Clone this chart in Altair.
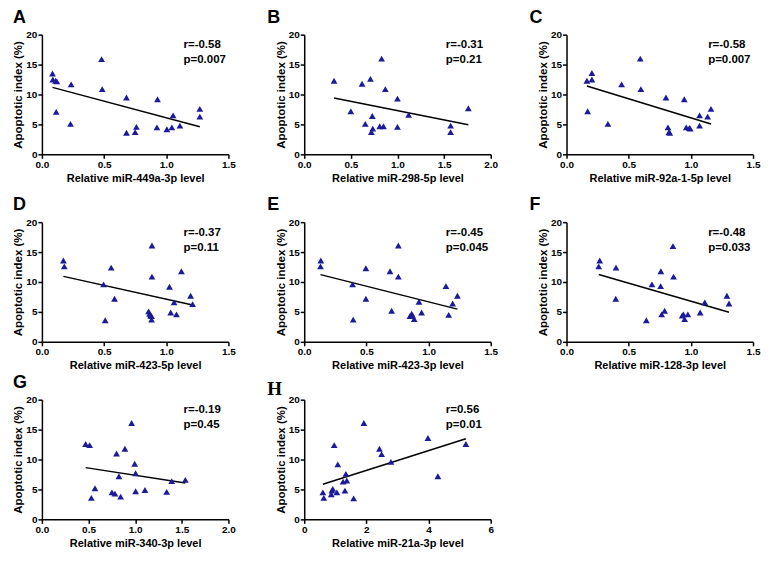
import altair as alt
import pandas as pd

# ---- data ----
a_x = [0.085, 0.088, 0.11, 0.12, 0.235, 0.115, 0.23, 0.48, 0.485, 0.68, 0.68, 0.76, 0.75, 0.925, 0.93, 1.005, 1.045, 1.055, 1.11, 1.27, 1.27]
a_y = [13.5, 12.5, 12.3, 12.2, 11.7, 7.1, 5.1, 15.9, 10.9, 9.5, 3.6, 4.6, 3.7, 4.5, 9.2, 4.2, 4.5, 6.5, 4.8, 7.6, 6.3]

b_x = [0.32, 0.50, 0.62, 0.71, 0.83, 0.87, 1.0, 0.73, 0.655, 0.735, 0.72, 0.81, 0.85, 1.0, 1.12, 1.57, 1.57, 1.76]
b_y = [12.3, 7.2, 11.8, 12.6, 16.0, 10.9, 9.3, 6.4, 5.1, 4.3, 3.7, 4.7, 4.7, 4.6, 6.6, 4.8, 3.7, 7.7]

c_x = [0.164, 0.204, 0.204, 0.17, 0.333, 0.443, 0.593, 0.598, 0.80, 0.816, 0.824, 0.83, 0.947, 0.963, 0.988, 0.995, 1.07, 1.07, 1.135, 1.162]
c_y = [12.3, 13.6, 12.5, 7.2, 5.1, 11.7, 16.0, 10.9, 9.5, 4.5, 3.7, 3.6, 9.2, 4.5, 4.4, 4.3, 6.5, 4.8, 6.3, 7.6]

d_x = [0.173, 0.18, 0.496, 0.509, 0.557, 0.584, 0.885, 0.885, 0.858, 0.866, 0.874, 0.882, 0.882, 1.026, 1.036, 1.063, 1.082, 1.122, 1.196, 1.212]
d_y = [13.6, 12.6, 9.6, 3.6, 12.4, 7.2, 16.1, 10.9, 5.1, 4.7, 4.4, 4.3, 3.7, 9.2, 4.9, 6.6, 4.6, 11.8, 7.7, 6.3]

e_x = [0.134, 0.131, 0.389, 0.394, 0.496, 0.496, 0.69, 0.703, 0.757, 0.757, 0.85, 0.864, 0.872, 0.885, 0.923, 0.944, 1.14, 1.162, 1.194, 1.232]
e_y = [13.6, 12.6, 9.6, 3.7, 12.3, 7.2, 11.8, 5.2, 16.1, 10.9, 4.3, 4.7, 4.4, 3.8, 6.7, 4.9, 9.3, 4.5, 6.4, 7.7]

f_x = [0.267, 0.259, 0.398, 0.396, 0.642, 0.687, 0.759, 0.757, 0.765, 0.789, 0.856, 0.861, 0.93, 0.94, 0.95, 0.976, 1.075, 1.112, 1.29, 1.307]
f_y = [13.6, 12.6, 12.4, 7.2, 3.6, 9.6, 11.8, 9.3, 4.6, 5.2, 16.0, 10.9, 4.4, 4.6, 3.8, 4.6, 4.9, 6.6, 7.7, 6.4]

g_x = [0.469, 0.512, 0.569, 0.53, 0.751, 0.783, 0.80, 0.89, 0.826, 0.844, 0.962, 0.995, 1.005, 1.005, 1.105, 1.338, 1.392, 1.538]
g_y = [12.6, 12.4, 5.2, 3.6, 4.5, 4.3, 11.0, 11.8, 7.2, 3.8, 16.1, 9.3, 7.7, 4.7, 4.9, 4.6, 6.4, 6.6]

h_x = [0.60, 0.63, 0.89, 0.92, 0.87, 1.05, 0.965, 1.08, 1.25, 1.31, 1.34, 1.37, 1.59, 1.92, 2.42, 2.49, 2.79, 3.98, 4.30, 5.20]
h_y = [4.5, 3.6, 4.8, 5.1, 4.2, 4.5, 12.4, 9.2, 6.3, 4.8, 7.6, 6.5, 3.5, 16.1, 11.8, 10.9, 9.6, 13.6, 7.2, 12.6]

letters = ["A", "B", "C", "D", "E", "F", "G", "H"]
x_titles = ["Relative miR-449a-3p level", "Relative miR-298-5p level", "Relative miR-92a-1-5p level",
            "Relative miR-423-5p level", "Relative miR-423-3p level", "Relative miR-128-3p level",
            "Relative miR-340-3p level", "Relative miR-21a-3p level"]
r_texts = ["r=-0.58", "r=-0.31", "r=-0.58", "r=-0.37", "r=-0.45", "r=-0.48", "r=-0.19", "r=0.56"]
p_texts = ["p=0.007", "p=0.21", "p=0.007", "p=0.11", "p=0.045", "p=0.033", "p=0.45", "p=0.01"]
x_maxes = [1.5, 2.0, 1.5, 1.5, 1.5, 1.5, 2.0, 6]
x_ticks = [[0, 0.5, 1.0, 1.5], [0, 0.5, 1.0, 1.5, 2.0], [0, 0.5, 1.0, 1.5],
           [0, 0.5, 1.0, 1.5], [0, 0.5, 1.0, 1.5], [0, 0.5, 1.0, 1.5],
           [0, 0.5, 1.0, 1.5, 2.0], [0, 2, 4, 6]]
y_ticks = [0, 5, 10, 15, 20]

xs = [a_x, b_x, c_x, d_x, e_x, f_x, g_x, h_x]
ys = [a_y, b_y, c_y, d_y, e_y, f_y, g_y, h_y]

FONT = "Liberation Sans"
BLUE = "#1a1a9a"
W, H = 187, 120


def panel(i):
    df = pd.DataFrame({"x": xs[i], "y": ys[i]})
    fmt = "d" if i == 7 else ".1f"
    xenc = alt.X("x:Q", scale=alt.Scale(domain=[0, x_maxes[i]], nice=False, zero=True),
                 axis=alt.Axis(values=x_ticks[i], format=fmt, title=x_titles[i]))
    yenc = alt.Y("y:Q", scale=alt.Scale(domain=[0, 20], nice=False),
                 axis=alt.Axis(values=y_ticks, title="Apoptotic index (%)"))
    base = alt.Chart(df)
    pts = base.mark_point(shape="triangle-up", filled=True, size=46, color=BLUE, opacity=1).encode(x=xenc, y=yenc)
    line = base.transform_regression("x", "y").mark_line(color="black", strokeWidth=1.5).encode(x=xenc, y=yenc)
    lab = alt.Chart(pd.DataFrame({"t": [letters[i]]})).mark_text(
        font="Liberation Serif" if i == 7 else FONT, fontWeight="bold", fontSize=19 if i == 7 else 18,
        align="left", baseline="alphabetic", color="black"
    ).encode(text="t:N", x=alt.value(-29 if i % 3 == 0 else -37), y=alt.value(-5 if i == 7 else -12))
    txt_style = dict(font=FONT, fontWeight="bold", fontSize=11.5, align="left", baseline="alphabetic", color="black")
    r_txt = alt.Chart(pd.DataFrame({"t": [r_texts[i]]})).mark_text(**txt_style).encode(
        text="t:N", x=alt.value(142), y=alt.value(13.5))
    p_txt = alt.Chart(pd.DataFrame({"t": [p_texts[i]]})).mark_text(**txt_style).encode(
        text="t:N", x=alt.value(142), y=alt.value(28.5))
    return alt.layer(line, pts, lab, r_txt, p_txt).properties(width=W, height=H)


panels = [panel(i) for i in range(8)]
row1 = alt.hconcat(*panels[0:3], spacing=32)
row2 = alt.hconcat(*panels[3:6], spacing=32)
row3 = alt.hconcat(*panels[6:8], spacing=32)
top = alt.vconcat(row1, row2, spacing=13)
chart = alt.vconcat(top, row3, spacing=3).properties(
    padding={"left": 4, "top": 0, "right": 2, "bottom": 2}
).configure_view(stroke=None).configure_axis(
    grid=False, domainColor="black", domainWidth=1.5, tickColor="black", tickWidth=1.5, tickSize=4,
    labelFont=FONT, labelFontWeight="bold", labelFontSize=10, labelColor="black", labelPadding=1,
    titleFont=FONT, titleFontWeight="bold", titleFontSize=11, titleColor="black"
).configure_axisY(titlePadding=2, titleFontSize=11.5).configure_axisX(titlePadding=3, labelFlush=False)

chart.save("out.html", embed_options={"renderer": "svg", "actions": False})
